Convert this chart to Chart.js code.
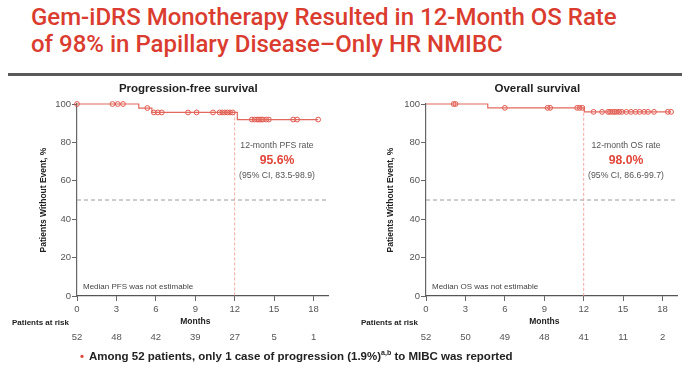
<!DOCTYPE html>
<html>
<head>
<meta charset="utf-8">
<script src="https://cdn.jsdelivr.net/npm/chart.js@4.4.1/dist/chart.umd.min.js"></script>
<style>
  body { margin: 0; width: 694px; height: 374px; background: #fff; position: relative; overflow: hidden; font-family: "Liberation Sans", Arial, sans-serif; }
  #title { position: absolute; left: 31px; top: 4px; margin: 0; color: #da3d2f; font: 500 24px/27px Roboto, "Liberation Sans", sans-serif; white-space: nowrap; }
  #rule { position: absolute; left: 8px; top: 73px; width: 674px; height: 3px; background: #595959; }
  .panel { position: absolute; top: 78px; }
  #note { position: absolute; left: 80px; top: 349px; font: bold 11.5px "Liberation Sans", Arial, sans-serif; color: #222; white-space: nowrap; }
  #note .dot { color: #e0463a; margin-right: 5px; }
  #note sup { font-size: 7px; }
</style>
</head>
<body>
<div id="title">Gem-iDRS Monotherapy Resulted in 12-Month OS Rate<br>of 98% in Papillary Disease–Only HR NMIBC</div>
<div id="rule"></div>
<canvas id="pfs-chart" class="panel" style="left:0" width="347" height="296"></canvas>
<canvas id="os-chart" class="panel" style="left:347px" width="347" height="296"></canvas>
<div id="note"><span class="dot">•</span>Among 52 patients, only 1 case of progression (1.9%)<sup>a,b</sup> to MIBC was reported</div>
<script>
const monthTicks = [0, 3, 6, 9, 12, 15, 18];
const pfsAtRisk = [52, 48, 42, 39, 27, 5, 1];
const osAtRisk = [52, 50, 49, 48, 41, 11, 2];

// KM steps: month of event and survival (%) after it
const pfsEventMonths = [0, 4.7, 5.7, 12.2];
const pfsSurvival = [100, 97.9, 95.6, 91.9];
const pfsCensored = [0, 2.7, 3.1, 3.5, 5.35, 5.85, 6.15, 6.45, 8.45, 9.1, 10.35, 10.85, 11.05, 11.25, 11.45, 11.65, 11.85,
  13.3, 13.5, 13.7, 13.85, 14.0, 14.15, 14.4, 14.6, 16.45, 16.75, 18.35];

const osEventMonths = [0, 4.7, 12.05];
const osSurvival = [100, 98.0, 95.9];
const osCensored = [2.1, 2.25, 6.0, 9.25, 9.45, 11.5, 11.7, 11.9, 12.75, 13.4, 13.85, 14.0, 14.2, 14.35, 14.5, 14.7, 14.9,
  15.25, 15.6, 15.95, 16.25, 16.6, 16.9, 17.35, 18.4, 18.65];

const pfsRateText = ["12-month PFS rate", "95.6%", "(95% CI, 83.5-98.9)"];
const osRateText = ["12-month OS rate", "98.0%", "(95% CI, 86.6-99.7)"];

Chart.defaults.font.family = '"Liberation Sans", Arial, sans-serif';

function levelAt(t, months, surv) {
  let v = surv[0];
  months.forEach((m, i) => { if (t >= m) v = surv[i]; });
  return v;
}

// dashed guides, titles, rate box and risk table
const kmDecor = {
  id: "kmDecor",
  beforeDatasetsDraw(chart, args, o) {
    const { ctx, chartArea: a, scales: { x, y } } = chart;
    ctx.save();
    ctx.lineWidth = 1;
    ctx.setLineDash([4, 3]);
    ctx.strokeStyle = "#9a9a9a";
    ctx.beginPath();
    ctx.moveTo(a.left, y.getPixelForValue(50));
    ctx.lineTo(a.right, y.getPixelForValue(50));
    ctx.stroke();
    ctx.setLineDash([3, 2]);
    ctx.strokeStyle = "#f2a7a1";
    const x12 = x.getPixelForValue(12);
    ctx.beginPath();
    ctx.moveTo(x12, y.getPixelForValue(o.level12));
    ctx.lineTo(x12, a.bottom);
    ctx.stroke();
    ctx.restore();
  },
  afterDraw(chart, args, o) {
    const { ctx, chartArea: a, scales: { x } } = chart;
    const mid = (x.getPixelForValue(monthTicks[0]) + x.getPixelForValue(monthTicks[monthTicks.length - 1])) / 2;
    ctx.save();
    ctx.textBaseline = "middle";
    ctx.textAlign = "center";
    ctx.fillStyle = "#222";
    ctx.font = 'bold 11.5px "Liberation Sans", Arial, sans-serif';
    ctx.fillText(o.title, mid - 7, 11);

    ctx.save();
    ctx.translate(44, (a.top + a.bottom) / 2);
    ctx.rotate(-Math.PI / 2);
    ctx.font = 'bold 8.5px "Liberation Sans", Arial, sans-serif';
    ctx.fillText("Patients Without Event, %", 0, 0);
    ctx.restore();

    const rx = a.right - 51;
    ctx.fillStyle = "#555";
    ctx.font = '8.7px "Liberation Sans", Arial, sans-serif';
    ctx.fillText(o.rate[0], rx, a.top + 42);
    ctx.fillStyle = "#e0463a";
    ctx.font = 'bold 12.2px "Liberation Sans", Arial, sans-serif';
    ctx.fillText(o.rate[1], rx, a.top + 57);
    ctx.fillStyle = "#555";
    ctx.font = '8.7px "Liberation Sans", Arial, sans-serif';
    ctx.fillText(o.rate[2], rx, a.top + 72);

    ctx.fillStyle = "#222";
    ctx.font = 'bold 8.5px "Liberation Sans", Arial, sans-serif';
    ctx.fillText("Months", mid, a.bottom + 26);

    ctx.fillStyle = "#555";
    ctx.font = '9.5px "Liberation Sans", Arial, sans-serif';
    o.atRisk.forEach((n, i) => ctx.fillText(String(n), x.getPixelForValue(monthTicks[i]), a.bottom + 41));

    ctx.textAlign = "left";
    ctx.fillStyle = "#222";
    ctx.font = 'bold 8px "Liberation Sans", Arial, sans-serif';
    ctx.fillText("Patients at risk", o.riskX, a.bottom + 27);

    ctx.fillStyle = "#444";
    ctx.font = '8px "Liberation Sans", Arial, sans-serif';
    ctx.fillText(o.median, a.left + 6, a.bottom - 9);
    ctx.restore();
  }
};

function makeKm(id, months, surv, censored, atRisk, title, rate, median, yWidth, padRight, riskX) {
  const last = censored[censored.length - 1];
  const curve = months.map((m, i) => ({ x: m, y: surv[i] }));
  curve.push({ x: last, y: surv[surv.length - 1] });
  const marks = censored.map(t => ({ x: t, y: levelAt(t, months, surv) }));

  new Chart(document.getElementById(id).getContext("2d"), {
    type: "line",
    data: {
      datasets: [{
        data: curve,
        stepped: "before",
        borderColor: "#e2685e",
        borderWidth: 1.2,
        pointRadius: 0,
        clip: false,
      }, {
        data: marks,
        showLine: false,
        pointRadius: 2.4,
        pointBorderWidth: 1,
        pointBorderColor: "#e0554a",
        pointBackgroundColor: "rgba(255,255,255,0)",
        clip: false,
      }],
    },
    options: {
      responsive: false,
      animation: false,
      devicePixelRatio: 1,
      layout: { padding: { top: 26, right: padRight, bottom: 58, left: 0 } },
      plugins: {
        legend: { display: false },
        tooltip: { enabled: false },
        kmDecor: { title, rate, median, atRisk, riskX, level12: levelAt(12, months, surv) },
      },
      scales: {
        x: {
          type: "linear",
          min: 0,
          max: 19.1,
          afterBuildTicks: s => { s.ticks = monthTicks.map(v => ({ value: v })); },
          afterFit: s => { s.height = 20; },
          ticks: { color: "#555", font: { size: 9.5 }, padding: 3 },
          grid: { drawOnChartArea: false, drawTicks: true, tickLength: 5, color: "#666" },
          border: { color: "#555", width: 1.2 },
        },
        y: {
          min: 0,
          max: 100,
          afterFit: s => { s.width = yWidth; },
          ticks: { stepSize: 20, color: "#555", font: { size: 9.5 }, padding: 1 },
          grid: { drawOnChartArea: false, drawTicks: true, tickLength: 5, color: "#666" },
          border: { color: "#666", width: 1.2 },
        },
      },
    },
    plugins: [kmDecor],
  });
}

makeKm("pfs-chart", pfsEventMonths, pfsSurvival, pfsCensored, pfsAtRisk, "Progression-free survival",
  pfsRateText, "Median PFS was not estimable", 77, 19, 12);
makeKm("os-chart", osEventMonths, osSurvival, osCensored, osAtRisk, "Overall survival",
  osRateText, "Median OS was not estimable", 79, 17, 14);
</script>
</body>
</html>
